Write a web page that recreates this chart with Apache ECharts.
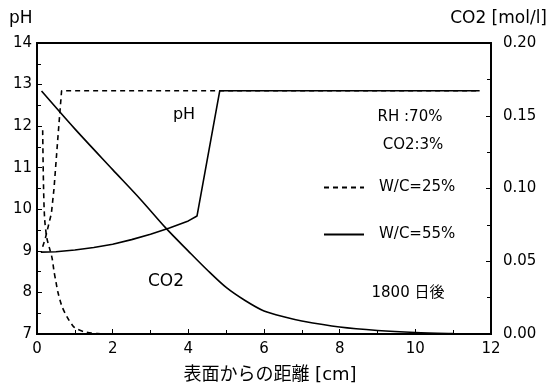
<!DOCTYPE html>
<html>
<head>
<meta charset="utf-8">
<script src="https://cdn.jsdelivr.net/npm/echarts@6/dist/echarts.min.js"></script>
<style>
html,body{margin:0;padding:0;background:#fff;}
#chart{width:551px;height:389px;}
</style>
</head>
<body>
<div id="chart"></div>
<script>
// ---- data (distance cm, value) ----
var xTicks = [0, 2, 4, 6, 8, 10, 12];
var pHTicks = [7, 8, 9, 10, 11, 12, 13, 14];
var co2Ticks = [0.00, 0.05, 0.10, 0.15, 0.20];

// pH, W/C=55% (solid)
var pH55 = [[0.1, 8.97], [0.5, 8.98], [1.0, 9.02], [1.5, 9.08], [2.0, 9.16], [2.5, 9.27], [3.0, 9.4], [3.5, 9.55], [4.0, 9.72], [4.23, 9.84], [4.83, 12.85], [11.7, 12.85]];
// pH, W/C=25% (dashed)
var pH25 = [[0.15, 9.1], [0.22, 9.3], [0.3, 9.6], [0.38, 9.9], [0.45, 10.5], [0.55, 11.7], [0.65, 12.85], [11.7, 12.85]];
// CO2, W/C=55% (solid)
var co2_55 = [[0.12, 0.167], [1.0, 0.141], [2.0, 0.113], [2.72, 0.093], [3.42, 0.0724], [4.0, 0.057], [4.5, 0.044], [5.0, 0.032], [5.5, 0.023], [6.0, 0.0158], [6.6, 0.0113], [7.0, 0.0089], [8.0, 0.0048], [9.0, 0.0024], [10.0, 0.001], [11.0, 0.0003], [11.7, 0.0]];
// CO2, W/C=25% (dashed)
var co2_25 = [[0.15, 0.14], [0.17, 0.105], [0.2, 0.08], [0.26, 0.066], [0.33, 0.059], [0.4, 0.052], [0.45, 0.043], [0.5, 0.036], [0.55, 0.029], [0.66, 0.019], [0.79, 0.012], [0.95, 0.0055], [1.05, 0.0035], [1.3, 0.0012], [1.6, 0.0003], [2.0, 0.0], [4.0, 0.0]];

var seriesNames = ['W/C=25%', 'W/C=55%'];

var FONT = "'DejaVu Sans', 'Noto Sans CJK JP', sans-serif";
var chart = echarts.init(document.getElementById('chart'), null, {renderer: 'canvas'});

function lineSeries(name, data, yIdx, dashed, smooth) {
  return {
    name: name, type: 'line', data: data, yAxisIndex: yIdx,
    showSymbol: false, symbol: 'none', smooth: smooth, animation: false,
    lineStyle: {color: '#000', width: 1.6, type: dashed ? [5, 4] : 'solid'},
    itemStyle: {color: '#000'}
  };
}

var axisCommon = {
  axisLine: {show: true, lineStyle: {color: '#000', width: 1.8}},
  axisTick: {show: true, inside: true, length: 5, lineStyle: {color: '#000', width: 1}},
  minorTick: {show: true, splitNumber: 2, length: 4, lineStyle: {color: '#000', width: 1}},
  splitLine: {show: false},
  axisLabel: {color: '#000', fontSize: 15, fontFamily: FONT}
};

var txt = function (s, x, y, size, align) {
  return {type: 'text', x: x, y: y, style: {text: s, fontSize: size, fontFamily: FONT, fill: '#000', align: align || 'center', verticalAlign: 'middle'}};
};

var option = {
  animation: false,
  backgroundColor: '#fff',
  grid: {left: 37, right: 60, top: 43, bottom: 54, show: true, borderColor: '#000', borderWidth: 1.8},
  xAxis: Object.assign({}, axisCommon, {
    type: 'value', min: xTicks[0], max: xTicks[xTicks.length - 1], interval: 2,
    axisLabel: Object.assign({}, axisCommon.axisLabel, {margin: 8}),
    name: '表面からの距離 [cm]', nameLocation: 'middle', nameGap: 32,
    nameTextStyle: {color: '#000', fontSize: 18, fontFamily: FONT, padding: [0, 0, 0, 12]}
  }),
  yAxis: [
    Object.assign({}, axisCommon, {
      type: 'value', min: pHTicks[0], max: pHTicks[pHTicks.length - 1], interval: 1, position: 'left',
      axisLabel: Object.assign({}, axisCommon.axisLabel, {margin: 5})
    }),
    Object.assign({}, axisCommon, {
      type: 'value', min: co2Ticks[0], max: co2Ticks[co2Ticks.length - 1], interval: 0.05, position: 'right',
      axisLabel: Object.assign({}, axisCommon.axisLabel, {margin: 12, formatter: function (v) { return v.toFixed(2); }})
    })
  ],
  legend: {
    data: seriesNames, orient: 'vertical', left: 318, top: 175,
    itemWidth: 40, itemHeight: 14, itemGap: 32,
    itemStyle: {opacity: 0},
    textStyle: {color: '#000', fontSize: 15, fontFamily: FONT, padding: [0, 0, 0, 10]}
  },
  series: [
    lineSeries(seriesNames[0], pH25, 0, true, false),
    lineSeries(seriesNames[1], pH55, 0, false, false),
    lineSeries(seriesNames[0], co2_25, 1, true, 0.3),
    lineSeries(seriesNames[1], co2_55, 1, false, 0.3)
  ],
  graphic: [
    {type: 'text', left: 9, top: 10, style: {text: 'pH', fontSize: 17, fontFamily: FONT, fill: '#000'}},
    {type: 'text', right: 4, top: 10, style: {text: 'CO2 [mol/l]', fontSize: 17, fontFamily: FONT, fill: '#000'}},
    txt('pH', 184, 115, 16),
    txt('CO2', 166, 282, 17),
    txt('RH :70%', 410, 117, 15),
    txt('CO2:3%', 413, 145, 15),
    txt('1800 日後', 408, 293, 15)
  ]
};
chart.setOption(option);
</script>
</body>
</html>
